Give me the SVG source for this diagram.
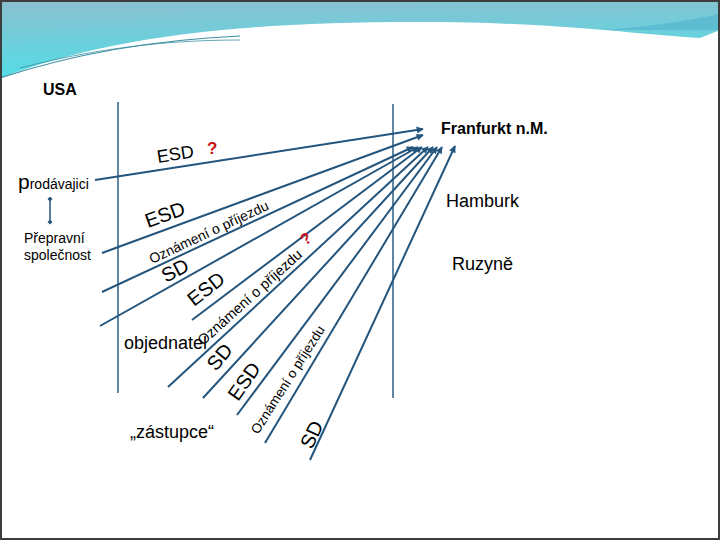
<svg xmlns="http://www.w3.org/2000/svg" width="720" height="540" viewBox="0 0 720 540">
  <defs>
    <linearGradient id="band" x1="0" y1="0" x2="0.15" y2="1">
      <stop offset="0" stop-color="#8cbfd0"/>
      <stop offset="1" stop-color="#52dde6"/>
    </linearGradient>
    <marker id="ah" viewBox="0 0 10 10" refX="9" refY="5" markerWidth="9" markerHeight="7" markerUnits="userSpaceOnUse" orient="auto">
      <path d="M0,0 L10,5 L0,10 Z" fill="#24557d"/>
    </marker>
    <marker id="dot" viewBox="0 0 10 10" refX="5" refY="5" markerWidth="5" markerHeight="6" markerUnits="userSpaceOnUse" orient="auto">
      <path d="M0,5 L5,0 L10,5 L5,10 Z" fill="#24557d"/>
    </marker>
  </defs>
  <style>
    .t { font-family: "Liberation Sans", Arial, sans-serif; fill: #000; }
    .b { font-weight: bold; }
    .c { stroke: #24557d; stroke-width: 2; fill: none; marker-end: url(#ah); }
    .v { stroke: #2b5f86; stroke-width: 1.5; fill: none; }
    .q { font-family: "Liberation Sans", Arial, sans-serif; font-weight: bold; fill: #c8101a; }
  </style>
  <rect x="0" y="0" width="720" height="540" fill="#ffffff"/>
  <!-- top decoration -->
  <path d="M0,0 H720 V30 L700,38 C640,35 560,22 420,22 C220,22 100,40 0,78 Z" fill="url(#band)"/>
  <path d="M720,14 C680,22 640,28 600,30 L720,30 Z" fill="#4fb3cb" opacity="0.6"/>
  <path d="M0,78 C70,55 150,40 240,36" stroke="#3e8fa3" stroke-width="1.2" fill="none"/>
  <path d="M20,68 C90,50 160,40 240,40" stroke="#3e8fa3" stroke-width="0.8" fill="none"/>
  <rect x="1" y="1" width="718" height="538" fill="none" stroke="#3d3d3d" stroke-width="2"/>

  <!-- vertical lines -->
  <g id="axes">
    <line class="v" x1="118" y1="102" x2="118" y2="393"/>
    <line class="v" x1="393" y1="104" x2="393" y2="398"/>
  </g>

  <!-- nodes -->
  <g id="usa"><text class="t b" x="43" y="95" font-size="16">USA</text></g>
  <g id="frankfurt"><text class="t b" x="441" y="134" font-size="16">Franfurkt n.M.</text></g>
  <g id="hamburk"><text class="t" x="446" y="207" font-size="18">Hamburk</text></g>
  <g id="ruzyne"><text class="t" x="452" y="270" font-size="18">Ruzyně</text></g>
  <g id="prodavajici"><text class="t" x="18" y="189"><tspan font-size="21">p</tspan><tspan font-size="14">rodávajici</tspan></text></g>
  <g id="prepravni">
    <text class="t" x="24" y="243" font-size="14">Přepravní</text>
    <text class="t" x="24" y="260" font-size="14">společnost</text>
  </g>
  <g id="objednatel"><text class="t" x="124" y="349" font-size="18">objednatel</text></g>
  <g id="zastupce"><text class="t" x="130" y="438" font-size="18">„zástupce“</text></g>

  <!-- connectors -->
  <g id="connectors">
    <line x1="50" y1="199" x2="50" y2="222" stroke="#24557d" stroke-width="1.5" marker-start="url(#dot)" marker-end="url(#dot)"/>
    <line class="c" x1="95" y1="180" x2="423" y2="129"/>
    <line class="c" x1="102" y1="253" x2="423" y2="135"/>
    <line class="c" x1="102" y1="292" x2="413" y2="147"/>
    <line class="c" x1="100" y1="326" x2="418" y2="147"/>
    <line class="c" x1="192" y1="320" x2="422" y2="147"/>
    <line class="c" x1="168" y1="387" x2="428" y2="147"/>
    <line class="c" x1="203" y1="398" x2="433" y2="147"/>
    <line class="c" x1="237" y1="415" x2="437" y2="147"/>
    <line class="c" x1="265" y1="443" x2="442" y2="147"/>
    <line class="c" x1="310" y1="460" x2="455" y2="146"/>
  </g>

  <!-- connector labels -->
  <g id="labels">
    <text class="t" font-size="18" transform="translate(158,163) rotate(-9)">ESD</text>
    <text class="q" font-size="17" x="207" y="154">?</text>
    <text class="t" font-size="20" transform="translate(148,228) rotate(-20)">ESD</text>
    <text class="t" font-size="14" transform="translate(152,264) rotate(-25)">Oznámení o příjezdu</text>
    <text class="t" font-size="20" transform="translate(166,283) rotate(-28)">SD</text>
    <text class="t" font-size="20" transform="translate(194,307) rotate(-38)">ESD</text>
    <text class="t" font-size="14.5" transform="translate(203,346) rotate(-42)">Oznámení o příjezdu</text>
    <text class="q" font-size="16" transform="translate(305,246) rotate(-35)">?</text>
    <text class="t" font-size="20" transform="translate(216,372) rotate(-50)">SD</text>
    <text class="t" font-size="20" transform="translate(238,402) rotate(-55)">ESD</text>
    <text class="t" font-size="13.5" transform="translate(258,435) rotate(-57.5)">Oznámení o příjezdu</text>
    <text class="t" font-size="20" transform="translate(312,450) rotate(-65)">SD</text>
  </g>
</svg>
